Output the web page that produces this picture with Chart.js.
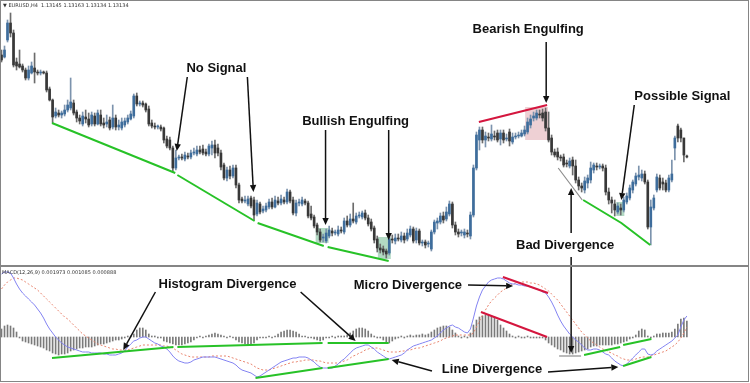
<!DOCTYPE html>
<html><head><meta charset="utf-8">
<script src="https://cdn.jsdelivr.net/npm/chart.js@4.4.1/dist/chart.umd.min.js"></script>
<style>html,body{margin:0;padding:0;background:#fff;}canvas{display:block;}</style>
</head><body>
<canvas id="c" width="750" height="383"></canvas>
<script>
// ---- price candles (arbitrary price units, higher = higher price) ----
const candleOpen=[245,243,260,277,267,238,236,234,230,222,227,232,228,227,228,227,211,200,184,187,185,186,190,192,197,188,182,176,183,181,176,184,176,185,177,176,180,173,182,173,172,175,178,181,184,204,196,197,196,191,177,174,173,173,172,161,160,152,132,142,143,141,144,143,147,146,150,151,148,146,152,155,152,147,135,122,130,124,132,115,101,99,96,102,100,86,96,89,90,93,98,93,99,97,100,98,108,100,87,97,96,99,97,86,83,75,68,62,59,64,69,67,66,70,68,79,75,81,78,84,83,87,82,78,72,61,52,51,49,47,61,59,62,60,64,61,65,71,60,69,57,58,56,51,68,77,78,84,81,86,96,75,68,67,65,67,64,85,132,160,170,160,163,161,164,167,161,167,161,168,158,163,164,164,166,168,175,182,182,186,187,188,172,162,148,148,143,143,137,134,140,134,120,114,110,117,120,130,134,133,134,132,108,100,96,88,92,90,98,102,110,116,123,122,126,118,73,92,110,122,118,117,110,120,152,174,170,162,144];
const candleClose=[240,250,277,267,235,234,233,230,222,230,234,228,227,228,227,210,200,183,188,185,187,190,195,198,187,182,179,184,181,175,185,176,187,176,175,178,172,182,173,175,178,179,182,186,204,196,197,195,190,176,174,173,173.5,171,160,154,152,132,142,143,142,145,143,147,148,150,148,147,146,154,155,147,147,133,122,130,124,132,115,100,99,100,101,94,85,97,88,91,94,98,93,100,97,101,98,108,99,87,97,98,100,97,84,82,74,68,60,63,67,70,67,68,70,69,79,75,81,79,84,85,87,82,76,71,60,52,50,48,46,61,60,62,61,64,60,67,71,59,69,57,57.5,55,57,68,78,79,84,80,88,96,75,68,66,67.5,68,66,85,132,165,170,160,164,162,166,163,160,167,160,162,159,163,164,165,167,170,178,181,184,187,185,182,172,160,148,145,143,142,135,136,139,134,120,114,112,119,122,132,135,133,134,132,108,100,97,90,94,90,100,104,112,118,124,125,126,118,73,93,102,123,112,116,110,122,126,162,162,162,145,143];
const candleHigh=[250,254,280,287,270,242,250,236,232,234,238,247,230,230,229,229,213,201,192,190,189,195,200,222,200,190,185,188,190,187,188,187,190,190,182,185,183,195,185,180,182,182,185,189,206,207,199,199,197,194,180,177,175,175,173,164,163,154,150,145,146,148,147,150,152,154,154,155,151,156,159,160,156,150,137,133,134,135,135,117,103,104,104,104,103,100,98,94,97,101,102,104,103,105,103,111,110,103,100,101,103,101,99,94,85,77,71,66,71,74,72,70,74,73,82,84,86,97,87,88,89,90,85,81,74,64,56,54,51,64,65,66,66,68,67,71,74,73,72,71,60,60,59,70,80,82,87,88,93,99,98,78,71,70,71,70,88,135,168,173,173,168,167,175,169,170,170,170,166,171,167,167,168,170,174,182,185,188,190,190,191,192,188,165,151,152,145,146,140,142,143,140,123,117,123,125,138,137,137,136,136,135,112,103,100,97,96,103,107,115,120,127,134,130,129,120,100,105,126,125,122,120,125,140,164,176,172,162,145];
const candleLow=[238,242,258,263,233,230,232,228,220,220,226,217,225,225,226,208,199,177,182,183,182,184,188,190,185,178,176,174,177,173,174,174,175,174,172,173,170,171,170,170,170,173,176,180,182,194,194,193,188,174,172,171,171,169,157,152,150,128,130,140,140,139,141,141,145,144,146,145,144,144,145,142,144,130,120,119,121,122,112,97,97,97,94,92,80,84,86,87,88,91,91,92,95,95,96,96,97,85,84,94,94,95,82,80,72,65,58,58,57,62,64,65,64,67,66,73,73,77,76,82,81,80,74,69,57,48,47,45,42,45,57,56,59,58,57,59,63,57,57,55,54,52,53,49,66,71,76,77,79,84,72,65,63,64,62,63,61,83,130,150,157,153,159,159,160,158,155,157,159,154,156,161,162,163,164,166,172,179,180,182,179,169,158,145,143,140,139,133,133,132,125,117,110,108,107,112,117,127,130,131,129,105,96,87,84,86,85,88,96,100,107,114,120,119,116,71,55,90,108,110,110,108,108,118,140,158,158,138,142];

// ---- MACD(12,26,9) panel ----
const macdLine=[63,65,65,64,59,53,48,44,41,38,35,32,28,24,19,13,8,4,0,-3,-6,-8,-10,-11,-12,-13,-14,-15,-15,-15,-16,-16,-16,-16,-17,-17,-18,-18,-18,-17,-16,-14,-10,-7,-4,-3,-1,0,0,-2,-4,-6,-7,-9,-10,-12,-15,-19,-22,-24,-25,-26,-26,-25,-23,-22,-21,-20,-20,-20,-20,-20,-21,-22,-23,-24,-25,-26,-28,-31,-33,-34,-35,-36,-38,-40,-39,-37,-35,-33,-31,-29,-27,-25,-24,-23,-22,-21,-21,-20,-20,-20,-21,-23,-25,-28,-30,-31,-31,-31,-31,-29,-27,-24,-22,-19,-16,-13,-11,-10,-9,-8,-8,-10,-12,-15,-17,-19,-21,-22,-21,-20,-19,-18,-16,-13,-11,-9,-8,-7,-6,-5,-4,-3,-1,1,4,7,9,11,12,10,9,7,5,4,8,19,31,40,47,51,55,57,58,59,59,58,56,54,53,53,52,52,51,51,50,49,48,47,45,44,40,35,29,22,16,11,7,3,0,-3,-5,-8,-11,-13,-13,-12,-12,-13,-15,-17,-18,-21,-24,-26,-28,-29,-27,-24,-21,-18,-15,-12,-12,-17,-18,-17,-14,-12,-10,-8,-6,-4,-1,2,10,17,21];
const signalLine=[48,52,55,57,59,59,58,57,55,53,51,49,47,44,41,38,35,32,29,26,23,20,18,15,12,9,6,3,1,-1,-3,-5,-7,-8,-9,-10,-11,-12,-12,-13,-13,-13,-13,-12,-11,-10,-9,-8,-8,-8,-8,-8,-8,-8,-9,-9,-10,-11,-13,-15,-17,-18,-19,-20,-20,-20,-20,-20,-20,-20,-19,-19,-19,-19,-19,-19,-20,-21,-22,-23,-24,-25,-26,-27,-29,-31,-32,-33,-33,-33,-32,-31,-30,-29,-28,-27,-26,-25,-25,-24,-24,-23,-23,-23,-23,-24,-24,-25,-26,-26,-26,-26,-26,-25,-24,-23,-21,-19,-18,-16,-15,-13,-12,-11,-11,-11,-12,-13,-14,-15,-15,-15,-15,-14,-14,-13,-13,-12,-11,-11,-10,-9,-8,-7,-6,-5,-4,-2,-1,0,1,2,2,2,2,2,2,4,10,16,22,27,32,36,39,42,45,47,49,51,53,54,54,55,55,55,54,54,53,52,50,48,46,43,40,37,33,29,25,21,17,13,9,5,2,-1,-4,-6,-8,-10,-12,-13,-15,-16,-18,-19,-21,-22,-23,-23,-23,-22,-21,-20,-20,-20,-19,-18,-17,-16,-15,-14,-12,-10,-8,-5,-1,4,10];
const histogram=[8,11,12,11,9,5,-1,-4,-5,-6,-7,-8,-9,-10,-11,-13,-14,-16,-17,-18,-17,-17,-16,-14,-13,-12,-11,-11,-10,-10,-10,-9,-8,-7,-7,-6,-5,-4,-3,-3,-2,-1,1,1,3,7,9,9,7,3,1,1,-1,-1,-4,-5,-6,-7,-8,-8,-8,-7,-6,-5,-3,-1,1,-1,1,2,3,4,3,2,1,-1,1,-1,-3,-5,-6,-7,-8,-7,-6,-3,-1,-1,-1,1,-1,1,3,5,6,7,7,6,5,3,1,1,-1,-1,-2,-3,-4,-3,-1,-1,1,-1,1,1,1,2,4,6,8,9,9,8,6,3,1,-1,-1,-3,-5,-6,-4,-2,-1,1,-1,1,2,1,2,2,3,2,3,5,7,9,10,11,11,10,7,4,1,-1,1,-1,4,12,17,20,21,22,22,21,20,17,12,9,6,3,1,-1,1,-1,-1,1,-1,-1,-1,-1,-1,-3,-6,-8,-10,-12,-13,-15,-16,-17,-17,-16,-15,-14,-13,-12,-10,-9,-9,-8,-8,-8,-8,-8,-7,-7,-6,-5,-4,-2,-1,2,6,8,7,1,-1,1,3,3,4,4,4,5,8,13,18,19,16];

const barIndex = candleOpen.map((_, i) => i);

// ---- annotations, in data coordinates (bar index, axis value) ----
const GREEN='#27c227', RED='#d4163e', GREY='#8c8c8c';
const trendLines=[
 {axis:'y',color:GREEN,pts:[[16.8,177],[57.8,127]]},
 {axis:'y',color:GREEN,pts:[[58.5,125],[84.2,79]]},
 {axis:'y',color:GREEN,pts:[[85.2,77],[107.2,54]]},
 {axis:'y',color:GREEN,pts:[[108.5,53],[128.8,39]]},
 {axis:'y',color:GREEN,pts:[[193.5,100],[206.2,77],[215.8,55]]},
 {axis:'y',color:RED,pts:[[158.8,178],[181.5,195]]},
 {axis:'y',color:GREY,pts:[[185.2,132],[193.2,100]]},
 {axis:'y2',color:GREEN,pts:[[16.8,-21],[57.2,-10]]},
 {axis:'y2',color:GREEN,pts:[[58.5,-10],[106.8,-6]]},
 {axis:'y2',color:GREEN,pts:[[108.5,-6],[128.8,-6]]},
 {axis:'y2',color:GREEN,pts:[[84.5,-41],[106.8,-31]]},
 {axis:'y2',color:GREEN,pts:[[108.5,-31],[128.8,-22]]},
 {axis:'y2',color:GREEN,pts:[[193.8,-18],[205.8,-10]]},
 {axis:'y2',color:GREEN,pts:[[206.8,-8],[216.2,-2]]},
 {axis:'y2',color:GREEN,pts:[[206.8,-29],[216.2,-20]]},
 {axis:'y2',color:RED,pts:[[166.8,60],[181.8,44]]},
 {axis:'y2',color:RED,pts:[[159.5,25],[181.5,0]]},
 {axis:'y2',color:GREY,pts:[[185.5,-19],[192.8,-19]]}
];
const boxes=[
 {axis:'y',x0:104.5,x1:108.8,y0:72,y1:57,color:'#b2d9c3'},
 {axis:'y',x0:125.2,x1:129.5,y0:63,y1:41,color:'#b2d9c3'},
 {axis:'y',x0:174.2,x1:181.8,y0:193,y1:160,color:'#eed0d4'},
 {axis:'y',x0:204.5,x1:207.2,y0:98,y1:84,color:'#b2d9c3'}
];
const arrows=[
 {from:[61.8,223,'y'],to:[58.3,149,'y']},
 {from:[81.8,223,'y'],to:[83.8,108,'y']},
 {from:[107.8,170,'y'],to:[107.8,75,'y']},
 {from:[128.8,170,'y'],to:[128.8,60,'y']},
 {from:[181.2,258,'y'],to:[181.2,197,'y']},
 {from:[210.5,195,'y'],to:[206.2,100,'y']},
 {from:[189.5,67,'y'],to:[189.5,112,'y']},
 {from:[189.5,43,'y'],to:[189.5,-16,'y2']},
 {from:[51.2,45,'y2'],to:[40.5,-13,'y2']},
 {from:[99.5,45,'y2'],to:[117.8,-4,'y2']},
 {from:[155.2,52,'y2'],to:[170.2,51,'y2']},
 {from:[143.2,-34,'y2'],to:[129.8,-23,'y2']},
 {from:[181.8,-35,'y2'],to:[205.2,-30,'y2']}
];
const labels=[
 {text:'No Signal',x:71.5,y:232,axis:'y'},
 {text:'Bullish Engulfing',x:117.8,y:179,axis:'y'},
 {text:'Bearish Engulfing',x:175.2,y:271,axis:'y'},
 {text:'Possible Signal',x:226.5,y:204,axis:'y'},
 {text:'Bad Divergence',x:187.5,y:55,axis:'y'},
 {text:'Histogram Divergence',x:75.2,y:53,axis:'y2'},
 {text:'Micro Divergence',x:135.2,y:52,axis:'y2'},
 {text:'Line Divergence',x:163.2,y:-32,axis:'y2'}
];
const priceCaption='\u25BC EURUSD,H4  1.13145 1.13163 1.13134 1.13134';
const macdCaption='MACD(12,26,9) 0.001973 0.001085 0.000888';

const isBull=i=>candleClose[i]>candleOpen[i];

const datasets=[
 {type:'line',label:'MACD',data:barIndex.map(i=>({x:i,y:macdLine[i]})),borderColor:'#8383f2',borderWidth:1,pointRadius:0,yAxisID:'y2',order:1},
 {type:'line',label:'Signal',data:barIndex.map(i=>({x:i,y:signalLine[i]})),borderColor:'#e8846e',borderWidth:1,borderDash:[2,2],pointRadius:0,yAxisID:'y2',order:1},
 {type:'bar',label:'Histogram',data:barIndex.map(i=>({x:i,y:histogram[i]})),backgroundColor:'#7a7a7a',barThickness:1,grouped:false,yAxisID:'y2',order:5},
 {type:'bar',label:'Wick',data:barIndex.map(i=>({x:i,y:[candleLow[i],candleHigh[i]]})),backgroundColor:barIndex.map(i=>isBull(i)?'#7c93ad':'#6c6c6c'),barThickness:1,grouped:false,yAxisID:'y',order:4},
 {type:'bar',label:'Body',data:barIndex.map(i=>({x:i,y:[candleOpen[i],candleClose[i]]})),backgroundColor:barIndex.map(i=>isBull(i)?'#3e6d9c':'#383838'),barThickness:2,minBarLength:1,grouped:false,yAxisID:'y',order:3}
];
trendLines.forEach(t=>datasets.push({type:'line',data:t.pts.map(p=>({x:p[0],y:p[1]})),borderColor:t.color,borderWidth:t.color===GREY?1.2:2,pointRadius:0,yAxisID:t.axis,order:0}));

function drawArrow(ctx,x1,y1,x2,y2){
 const a=Math.atan2(y2-y1,x2-x1),L=7,W=3.2;
 const bx=x2-L*Math.cos(a),by=y2-L*Math.sin(a);
 ctx.beginPath();ctx.moveTo(x1,y1);ctx.lineTo(bx,by);ctx.stroke();
 ctx.beginPath();ctx.moveTo(x2,y2);
 ctx.lineTo(bx+W*Math.sin(a),by-W*Math.cos(a));
 ctx.lineTo(bx-W*Math.sin(a),by+W*Math.cos(a));
 ctx.closePath();ctx.fill();
}
const annotationPlugin={
 id:'annot',
 beforeDatasetsDraw(chart){
  const ctx=chart.ctx,xs=chart.scales.x;
  ctx.save();
  boxes.forEach(b=>{const ys=chart.scales[b.axis];
   const x0=xs.getPixelForValue(b.x0),x1=xs.getPixelForValue(b.x1),y0=ys.getPixelForValue(b.y0),y1=ys.getPixelForValue(b.y1);
   ctx.fillStyle=b.color;ctx.fillRect(x0,Math.min(y0,y1),x1-x0,Math.abs(y1-y0));});
  ctx.restore();
 },
 afterDatasetsDraw(chart){
  const ctx=chart.ctx,xs=chart.scales.x;
  ctx.save();
  ctx.strokeStyle='#111';ctx.fillStyle='#111';ctx.lineWidth=1.5;
  arrows.forEach(a=>{
   drawArrow(ctx,xs.getPixelForValue(a.from[0]),chart.scales[a.from[2]].getPixelForValue(a.from[1]),
     xs.getPixelForValue(a.to[0]),chart.scales[a.to[2]].getPixelForValue(a.to[1]));
  });
  ctx.font='bold 13px "Liberation Sans", Arial, sans-serif';
  ctx.textAlign='center';ctx.textBaseline='middle';
  labels.forEach(l=>ctx.fillText(l.text,xs.getPixelForValue(l.x),chart.scales[l.axis].getPixelForValue(l.y)));
  // captions
  ctx.font='5px "DejaVu Sans", sans-serif';ctx.textAlign='left';ctx.textBaseline='top';ctx.fillStyle='#333';
  ctx.fillText(priceCaption,3,3);
  ctx.fillText(macdCaption,2,chart.scales.y2.top+4);
  // frame and pane separator
  ctx.strokeStyle='#858585';ctx.lineWidth=1;
  ctx.strokeRect(0.5,0.5,748,381);
  ctx.fillStyle='#858585';
  ctx.fillRect(0,chart.scales.y.bottom-1,749,2);
  ctx.restore();
 }
};

new Chart(document.getElementById('c'),{
 type:'bar',
 data:{datasets},
 options:{
  responsive:false,animation:false,events:[],
  layout:{padding:0},
  plugins:{legend:{display:false},tooltip:{enabled:false}},
  scales:{
   x:{type:'linear',min:-0.5,max:249,display:false,offset:false},
   y2:{type:'linear',min:-46,max:71,display:false,stack:'pane',stackWeight:117},
   y:{type:'linear',min:34,max:300,display:false,stack:'pane',stackWeight:266}
  }
 },
 plugins:[annotationPlugin]
});
</script>
</body></html>
